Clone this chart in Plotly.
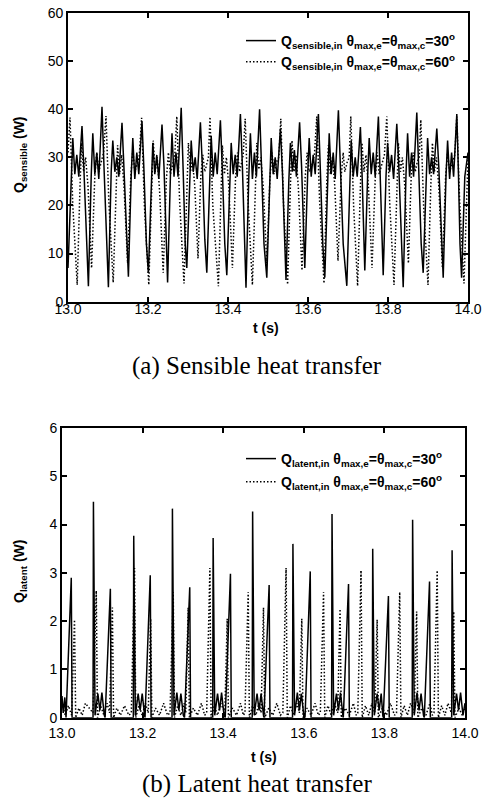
import plotly.graph_objects as go

# ---------------- data ----------------
# (a) sensible heat, theta = 30 deg (solid)
t_sens_30 = [13.000, 13.008, 13.012, 13.017, 13.022, 13.027, 13.035, 13.040, 13.046,
             13.051, 13.058, 13.062, 13.067, 13.072, 13.077, 13.085, 13.090, 13.096,
             13.101, 13.108, 13.112, 13.117, 13.122, 13.127, 13.135, 13.140, 13.146,
             13.151, 13.158, 13.162, 13.167, 13.172, 13.177, 13.185, 13.190, 13.196,
             13.201, 13.208, 13.212, 13.217, 13.222, 13.227, 13.235, 13.240, 13.245,
             13.249, 13.256, 13.260, 13.265, 13.270, 13.275, 13.283, 13.288, 13.293,
             13.297, 13.304, 13.308, 13.313, 13.318, 13.323, 13.331, 13.336, 13.342,
             13.347, 13.354, 13.358, 13.363, 13.368, 13.373, 13.381, 13.386, 13.392,
             13.397, 13.404, 13.408, 13.413, 13.418, 13.423, 13.431, 13.436, 13.441,
             13.445, 13.452, 13.456, 13.461, 13.466, 13.471, 13.479, 13.484, 13.490,
             13.497, 13.504, 13.508, 13.513, 13.518, 13.523, 13.531, 13.536, 13.541,
             13.545, 13.552, 13.556, 13.561, 13.566, 13.571, 13.579, 13.584, 13.589,
             13.592, 13.599, 13.603, 13.608, 13.613, 13.618, 13.626, 13.631, 13.637,
             13.642, 13.649, 13.653, 13.658, 13.663, 13.668, 13.676, 13.681, 13.688,
             13.697, 13.704, 13.708, 13.713, 13.718, 13.723, 13.731, 13.735, 13.739,
             13.742, 13.749, 13.753, 13.758, 13.763, 13.768, 13.776, 13.780, 13.785,
             13.788, 13.795, 13.799, 13.804, 13.809, 13.814, 13.822, 13.827, 13.833,
             13.838, 13.845, 13.849, 13.854, 13.859, 13.864, 13.872, 13.877, 13.883,
             13.888, 13.895, 13.899, 13.904, 13.909, 13.914, 13.922, 13.927, 13.933,
             13.938, 13.945, 13.949, 13.954, 13.959, 13.964, 13.972, 13.976, 13.980,
             13.984, 13.992, 14.000]
q_sens_30 = [7, 25, 34, 26.5, 30.5, 26, 36.5, 27, 12,
             3.2, 26, 35, 26.5, 31, 25.5, 40.5, 28, 12,
             3.0, 27, 33.5, 27, 30, 26, 37.2, 27.5, 13,
             5.2, 26, 34, 25.5, 31, 26.5, 37.5, 27, 12,
             6, 25, 33, 26.5, 30.5, 25.5, 36.8, 28, 13,
             4.0, 26, 35, 26, 31, 26, 40.3, 27, 12,
             7, 26, 33.5, 27, 30, 25.5, 37.3, 28, 13,
             6, 25.5, 34.5, 26, 31, 26.5, 37.7, 27, 12,
             5.5, 26, 33, 26.5, 30.5, 26, 39, 28, 12,
             2.9, 26, 35, 25.5, 31, 26, 40, 27.5, 12,
             5, 26.5, 34, 26.5, 30, 25.5, 36, 27, 13,
             4.5, 25, 33, 27, 31.5, 26, 37.3, 28, 13,
             7, 26, 34, 26, 30.5, 26.5, 39, 27, 12,
             5, 26, 35, 26.5, 31, 25.5, 39.8, 28, 12,
             3.3, 25.5, 33.5, 26, 30, 26, 36.3, 27, 13,
             6.5, 26, 34, 26.5, 31, 26, 38.5, 27.5, 12,
             5.5, 26, 33, 27, 30.5, 25.5, 37, 28, 12,
             3.0, 26.5, 35, 26, 31, 26, 39.3, 27, 12,
             6, 25.5, 34, 26.5, 30, 26.5, 36, 28, 13,
             5, 26, 33.5, 25.5, 31, 26, 39, 27, 12,
             5, 26, 31]

# (a) sensible heat, theta = 60 deg (dotted)
t_sens_60 = [13.000,
             13.005, 13.012, 13.023, 13.030, 13.034, 13.039, 13.044, 13.050, 13.059, 13.067, 13.072, 13.077, 13.083, 13.089,
             13.095, 13.102, 13.113, 13.120, 13.124, 13.129, 13.134, 13.140, 13.149, 13.157, 13.162, 13.167, 13.173, 13.178,
             13.184, 13.191, 13.202, 13.209, 13.213, 13.218, 13.223, 13.229, 13.238, 13.246, 13.251, 13.256, 13.262, 13.267,
             13.272, 13.279, 13.290, 13.297, 13.301, 13.306, 13.311, 13.317, 13.325, 13.332, 13.337, 13.342, 13.347, 13.351,
             13.355, 13.362, 13.376, 13.382, 13.386, 13.391, 13.396, 13.402, 13.411, 13.419, 13.424, 13.429, 13.434, 13.438,
             13.443, 13.450, 13.461, 13.468, 13.472, 13.477, 13.482, 13.488, 13.497, 13.505, 13.510, 13.515, 13.521, 13.527,
             13.532, 13.539, 13.549, 13.556, 13.560, 13.565, 13.570, 13.576, 13.585, 13.593, 13.598, 13.603, 13.610, 13.616,
             13.622, 13.629, 13.640, 13.647, 13.651, 13.656, 13.661, 13.667, 13.675, 13.683, 13.688, 13.692, 13.698, 13.703,
             13.707, 13.714, 13.724, 13.731, 13.735, 13.740, 13.745, 13.751, 13.760, 13.768, 13.773, 13.778, 13.785, 13.791,
             13.797, 13.804, 13.815, 13.822, 13.826, 13.831, 13.836, 13.842, 13.851, 13.858, 13.863, 13.868, 13.873, 13.878,
             13.882, 13.889, 13.900, 13.907, 13.911, 13.916, 13.921, 13.927, 13.936, 13.944, 13.949, 13.954, 13.961, 13.967,
             13.972, 13.979, 13.990, 13.997, 14.000]
q_sens_60 = [31,
             38.3, 20, 3.5, 24, 33, 27, 30, 24, 7, 26, 31, 27, 29, 31,
             38.6, 21, 4, 25, 32.5, 26.5, 30.5, 24, 8, 26, 31.5, 27, 28.5, 30,
             38.2, 20, 3.5, 24, 33.5, 27, 30, 23, 6, 25.5, 31, 26.5, 29, 30.5,
             38.5, 21, 3.8, 25, 33, 27, 29.5, 24, 9, 26, 30.5, 27, 29, 30,
             38.4, 20, 3.2, 24, 32.5, 26.5, 30, 24, 7, 26, 31, 27, 29, 30.5,
             38, 21, 3.5, 24.5, 33, 27.5, 30, 24, 8, 26, 31, 26.5, 29, 30,
             38, 20, 3.6, 24, 33.5, 27, 30.5, 23.5, 6.5, 26, 31, 27, 28.5, 30.5,
             38.5, 21, 3.8, 25, 32.5, 26.5, 30, 24, 8.5, 26, 31, 27, 29, 30,
             38.5, 20, 3.3, 24, 33, 27, 30.5, 24, 7, 25.5, 31, 26.5, 29, 30.5,
             38.5, 21, 3.5, 24.5, 33, 27, 30, 24, 8, 26, 31, 27, 29, 30,
             37.8, 20, 3.5, 24, 33, 27, 30, 24, 7, 26, 31, 27, 29, 30.5,
             38.5, 21, 3.8, 24, 30]

# (b) latent heat, theta = 30 deg (solid)
t_lat_30 = [13.000, 13.003, 13.007, 13.010, 13.023, 13.025,
            13.077, 13.078, 13.082, 13.089, 13.094, 13.099, 13.105, 13.107, 13.120, 13.122,
            13.177, 13.178, 13.182, 13.189, 13.194, 13.199, 13.205, 13.206, 13.219, 13.221,
            13.273, 13.274, 13.278, 13.285, 13.290, 13.295, 13.301, 13.304, 13.317, 13.319,
            13.374, 13.375, 13.379, 13.386, 13.391, 13.396, 13.402, 13.405, 13.418, 13.420,
            13.472, 13.473, 13.477, 13.484, 13.489, 13.494, 13.500, 13.501, 13.514, 13.516,
            13.572, 13.573, 13.577, 13.584, 13.589, 13.594, 13.600, 13.603, 13.616, 13.618,
            13.669, 13.670, 13.674, 13.681, 13.686, 13.691, 13.697, 13.698, 13.711, 13.713,
            13.770, 13.771, 13.775, 13.782, 13.787, 13.792, 13.796, 13.797, 13.810, 13.812,
            13.869, 13.870, 13.874, 13.881, 13.886, 13.891, 13.897, 13.899, 13.912, 13.914,
            13.967, 13.968, 13.972, 13.979, 13.984, 13.989, 13.995, 14.000]
q_lat_30 = [0.45, 0.1, 0.42, 0, 2.9, 0,
            0, 4.47, 0.05, 0.5, 0.15, 0.52, 0.05, 0, 2.67, 0,
            0, 3.77, 0.05, 0.5, 0.15, 0.5, 0.05, 0, 2.95, 0,
            0, 4.33, 0.05, 0.52, 0.15, 0.5, 0.05, 0, 2.7, 0,
            0, 3.72, 0.05, 0.5, 0.15, 0.52, 0.05, 0, 2.98, 0,
            0, 4.27, 0.05, 0.5, 0.15, 0.5, 0.05, 0, 2.75, 0,
            0, 3.6, 0.05, 0.52, 0.15, 0.5, 0.05, 0, 3.03, 0,
            0, 4.22, 0.05, 0.5, 0.15, 0.52, 0.05, 0, 2.77, 0,
            0, 3.5, 0.05, 0.5, 0.15, 0.5, 0.05, 0, 2.52, 0,
            0, 4.1, 0.05, 0.52, 0.15, 0.5, 0.05, 0, 2.82, 0,
            0, 3.47, 0.05, 0.5, 0.15, 0.52, 0.05, 0.3]

# (b) latent heat, theta = 60 deg (dotted)
t_lat_60 = [13.000, 13.008, 13.016, 13.024, 13.031, 13.034, 13.042, 13.050, 13.058, 13.077,
            13.085, 13.088, 13.096, 13.104, 13.112, 13.118, 13.125, 13.128, 13.136, 13.145,
            13.155, 13.166, 13.172, 13.180, 13.183, 13.191, 13.199, 13.207, 13.214, 13.220,
            13.223, 13.232, 13.242, 13.252, 13.262, 13.268, 13.276, 13.279, 13.287, 13.295,
            13.303, 13.307, 13.313, 13.316, 13.326, 13.336, 13.346, 13.354, 13.359, 13.367,
            13.370, 13.378, 13.386, 13.394, 13.404, 13.410, 13.413, 13.423, 13.433, 13.443,
            13.450, 13.454, 13.462, 13.465, 13.473, 13.481, 13.489, 13.494, 13.500, 13.503,
            13.513, 13.523, 13.533, 13.542, 13.548, 13.556, 13.559, 13.567, 13.575, 13.583,
            13.589, 13.595, 13.598, 13.608, 13.618, 13.628, 13.636, 13.641, 13.649, 13.652,
            13.660, 13.668, 13.676, 13.684, 13.690, 13.693, 13.703, 13.713, 13.723, 13.730,
            13.734, 13.742, 13.745, 13.753, 13.761, 13.769, 13.776, 13.782, 13.785, 13.795,
            13.805, 13.815, 13.825, 13.830, 13.838, 13.841, 13.849, 13.857, 13.865, 13.874,
            13.880, 13.883, 13.893, 13.903, 13.913, 13.919, 13.923, 13.931, 13.934, 13.942,
            13.950, 13.958, 13.966, 13.972, 13.975, 13.985, 13.993, 14.000]
q_lat_60 = [0.3, 0.05, 0.25, 0.05, 2.03, 0, 0.2, 0.05, 0.3, 0.1,
            2.63, 0, 0.25, 0.05, 0.3, 0.1, 2.28, 0, 0.2, 0.05,
            0.25, 0.05, 0.1, 3.1, 0, 0.25, 0.05, 0.3, 0.1, 2.05,
            0, 0.2, 0.05, 0.3, 0.05, 0.1, 2.6, 0, 0.25, 0.05,
            0.3, 0.1, 2.28, 0, 0.2, 0.05, 0.3, 0.05, 0.1, 3.1,
            0, 0.25, 0.05, 0.3, 0.1, 2.05, 0, 0.2, 0.05, 0.3,
            0.05, 0.1, 2.6, 0, 0.25, 0.05, 0.3, 0.1, 2.28, 0,
            0.2, 0.05, 0.3, 0.05, 0.1, 3.1, 0, 0.25, 0.05, 0.3,
            0.1, 2.05, 0, 0.2, 0.05, 0.3, 0.05, 0.1, 2.6, 0,
            0.25, 0.05, 0.3, 0.1, 2.25, 0, 0.2, 0.05, 0.3, 0.05,
            0.1, 3.05, 0, 0.25, 0.05, 0.3, 0.1, 2.03, 0, 0.2,
            0.05, 0.3, 0.05, 0.1, 2.6, 0, 0.25, 0.05, 0.3, 0.1,
            2.2, 0, 0.2, 0.05, 0.3, 0.05, 0.1, 3.05, 0, 0.25,
            0.05, 0.3, 0.1, 2.2, 0, 0.2, 0.05, 0.2]

x_ticks = [13.0, 13.2, 13.4, 13.6, 13.8, 14.0]
x_tick_labels = ["13.0", "13.2", "13.4", "13.6", "13.8", "14.0"]
y_ticks_a = [0, 10, 20, 30, 40, 50, 60]
y_ticks_b = [0, 1, 2, 3, 4, 5, 6]

names = [
    "<b>Q<sub>sensible,in</sub> θ<sub>max,e</sub>=θ<sub>max,c</sub>=30<sup>o</sup></b>",
    "<b>Q<sub>sensible,in</sub> θ<sub>max,e</sub>=θ<sub>max,c</sub>=60<sup>o</sup></b>",
    "<b>Q<sub>latent,in</sub> θ<sub>max,e</sub>=θ<sub>max,c</sub>=30<sup>o</sup></b>",
    "<b>Q<sub>latent,in</sub> θ<sub>max,e</sub>=θ<sub>max,c</sub>=60<sup>o</sup></b>",
]

# ---------------- figure ----------------
W, H = 483, 799
SANS = "Liberation Sans, Arial, sans-serif"
SERIF = "Liberation Serif, Times New Roman, serif"
DOT = "1.5px,2px"

fig = go.Figure()
fig.add_trace(go.Scatter(x=t_sens_30, y=q_sens_30, mode="lines", name=names[0],
                         line=dict(color="black", width=1.5), xaxis="x", yaxis="y",
                         legend="legend", legendgroup="a1"))
fig.add_trace(go.Scatter(x=t_sens_60, y=q_sens_60, mode="lines", name=names[1],
                         line=dict(color="black", width=1.5, dash=DOT), xaxis="x", yaxis="y",
                         legend="legend", legendgroup="a2"))
fig.add_trace(go.Scatter(x=t_lat_30, y=q_lat_30, mode="lines", name=names[2],
                         line=dict(color="black", width=1.5), xaxis="x2", yaxis="y2",
                         legend="legend2", legendgroup="b1"))
fig.add_trace(go.Scatter(x=t_lat_60, y=q_lat_60, mode="lines", name=names[3],
                         line=dict(color="black", width=1.5, dash=DOT), xaxis="x2", yaxis="y2",
                         legend="legend2", legendgroup="b2"))

def px_x(p):
    return p / W

def px_y(p):
    return 1 - p / H

axis_common = dict(showline=True, linecolor="black", linewidth=1.6, mirror="ticks",
                   ticks="inside", ticklen=5, tickwidth=1.5, tickcolor="black",
                   showgrid=False, zeroline=False, automargin=False,
                   ticklabeloverflow="allow",
                   tickfont=dict(family=SANS, size=14, color="black"))

fig.update_layout(
    width=W, height=H, autosize=False,
    margin=dict(l=0, r=0, t=0, b=0, pad=0, autoexpand=False),
    paper_bgcolor="white", plot_bgcolor="white",
    xaxis=dict(domain=[px_x(68), px_x(468)], range=[13, 14], anchor="y",
               tickvals=x_ticks, ticktext=x_tick_labels, ticklabelstandoff=-6, **axis_common),
    yaxis=dict(domain=[px_y(301.7), px_y(13)], range=[0, 60], anchor="x",
               tickvals=y_ticks_a, **axis_common),
    xaxis2=dict(domain=[px_x(62), px_x(465)], range=[13, 14], anchor="y2",
                tickvals=x_ticks, ticktext=x_tick_labels, ticklabelstandoff=2, **axis_common),
    yaxis2=dict(domain=[px_y(717.7), px_y(428)], range=[0, 6], anchor="x2",
                tickvals=y_ticks_b, **axis_common),
    legend=dict(x=px_x(241), y=px_y(25), xanchor="left", yanchor="top",
                bgcolor="rgba(0,0,0,0)", borderwidth=0, tracegroupgap=0,
                font=dict(family=SANS, size=14, color="black")),
    legend2=dict(x=px_x(241), y=px_y(443), xanchor="left", yanchor="top",
                 bgcolor="rgba(0,0,0,0)", borderwidth=0, tracegroupgap=2,
                 font=dict(family=SANS, size=14, color="black")),
    showlegend=True,
)

annotations = [
    dict(text="<b>Q<sub>sensible</sub> (W)</b>", x=px_x(20), y=px_y(155), textangle=-90,
         font=dict(family=SANS, size=14, color="black")),
    dict(text="<b>t (s)</b>", x=px_x(266), y=px_y(327.5),
         font=dict(family=SANS, size=14, color="black")),
    dict(text="(a) Sensible heat transfer", x=px_x(257), y=px_y(366),
         font=dict(family=SERIF, size=25, color="black")),
    dict(text="<b>Q<sub>latent</sub> (W)</b>", x=px_x(20), y=px_y(572), textangle=-90,
         font=dict(family=SANS, size=14, color="black")),
    dict(text="<b>t (s)</b>", x=px_x(264), y=px_y(757),
         font=dict(family=SANS, size=14, color="black")),
    dict(text="(b) Latent heat transfer", x=px_x(257), y=px_y(784),
         font=dict(family=SERIF, size=25, color="black")),
]
for a in annotations:
    a.update(xref="paper", yref="paper", showarrow=False, xanchor="center", yanchor="middle")
fig.update_layout(annotations=annotations)

fig.write_html("out.html", config={"displayModeBar": False},
               post_script="document.body.style.margin='0px';document.body.style.overflow='hidden';")
